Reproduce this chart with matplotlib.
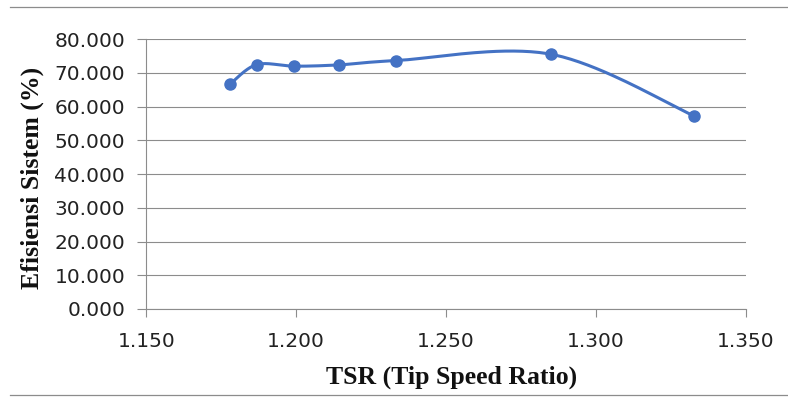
import matplotlib
matplotlib.use("Agg")
import matplotlib.pyplot as plt
from matplotlib.lines import Line2D
from matplotlib.ticker import FormatStrFormatter
import numpy as np

# data
tsr = [1.1779, 1.1868, 1.1994, 1.2144, 1.2332, 1.2849, 1.3327]
efisiensi = [66.66, 72.47, 72.00, 72.40, 73.66, 75.56, 57.25]

x_ticks = [1.150, 1.200, 1.250, 1.300, 1.350]
y_ticks = [0, 10, 20, 30, 40, 50, 60, 70, 80]

line_color = '#4472C4'
grid_color = '#8c8c8c'


def smooth_line(xs, ys, n=40):
    # Excel-like smoothed line: bezier segments, control points from neighbours
    xs = np.asarray(xs, dtype=float)
    ys = np.asarray(ys, dtype=float)
    px = np.concatenate([[xs[0]], xs, [xs[-1]]])
    py = np.concatenate([[ys[0]], ys, [ys[-1]]])
    out_x, out_y = [], []
    t = np.linspace(0, 1, n)
    for i in range(1, len(px) - 2):
        x0, y0 = px[i], py[i]
        x3, y3 = px[i + 1], py[i + 1]
        x1 = x0 + (px[i + 1] - px[i - 1]) / 6
        y1 = y0 + (py[i + 1] - py[i - 1]) / 6
        x2 = x3 - (px[i + 2] - px[i]) / 6
        y2 = y3 - (py[i + 2] - py[i]) / 6
        bx = (1 - t)**3 * x0 + 3 * (1 - t)**2 * t * x1 + 3 * (1 - t) * t**2 * x2 + t**3 * x3
        by = (1 - t)**3 * y0 + 3 * (1 - t)**2 * t * y1 + 3 * (1 - t) * t**2 * y2 + t**3 * y3
        out_x.extend(bx)
        out_y.extend(by)
    return out_x, out_y


fig = plt.figure(figsize=(7.88, 3.97), dpi=100)
ax = fig.add_axes([0.1857, 0.2217, 0.761, 0.6795])

sx, sy = smooth_line(tsr, efisiensi)
ax.plot(sx, sy, color=line_color, linewidth=2.2, solid_capstyle='round', zorder=3)
ax.plot(tsr, efisiensi, linestyle='none', marker='o', markersize=8,
        color=line_color, zorder=4)

ax.set_xlim(1.150, 1.350)
ax.set_ylim(0, 80)
ax.set_xticks(x_ticks)
ax.set_yticks(y_ticks)
ax.xaxis.set_major_formatter(FormatStrFormatter('%.3f'))
ax.yaxis.set_major_formatter(FormatStrFormatter('%.3f'))

ax.grid(axis='y', color=grid_color, linewidth=0.8)
ax.set_axisbelow(True)
for side in ['top', 'right']:
    ax.spines[side].set_visible(False)
for side in ['left', 'bottom']:
    ax.spines[side].set_color(grid_color)
    ax.spines[side].set_linewidth(0.8)

ax.tick_params(axis='x', direction='out', length=5.5, width=0.8, color=grid_color,
               pad=11, labelsize=14.5, labelcolor='#222222')
ax.tick_params(axis='y', direction='out', length=6.2, width=0.8, color=grid_color,
               pad=9, labelsize=14.5, labelcolor='#222222')

fig.text(0.0406, 0.553, 'Efisiensi Sistem (%)', rotation=90, ha='center', va='center',
         family='Liberation Serif', fontweight='bold', fontsize=18.5, color='#111111')
fig.text(0.573, 0.0504, 'TSR (Tip Speed Ratio)', ha='center', va='center',
         family='Liberation Serif', fontweight='bold', fontsize=18.5, color='#111111')

# chart border lines (top and bottom)
fig.add_artist(Line2D([0.0127, 1.0], [0.9824, 0.9824], transform=fig.transFigure,
                      color=grid_color, linewidth=0.9))
fig.add_artist(Line2D([0.0127, 1.0], [0.0038, 0.0038], transform=fig.transFigure,
                      color=grid_color, linewidth=0.9))

fig.savefig('out.png', dpi=100)
